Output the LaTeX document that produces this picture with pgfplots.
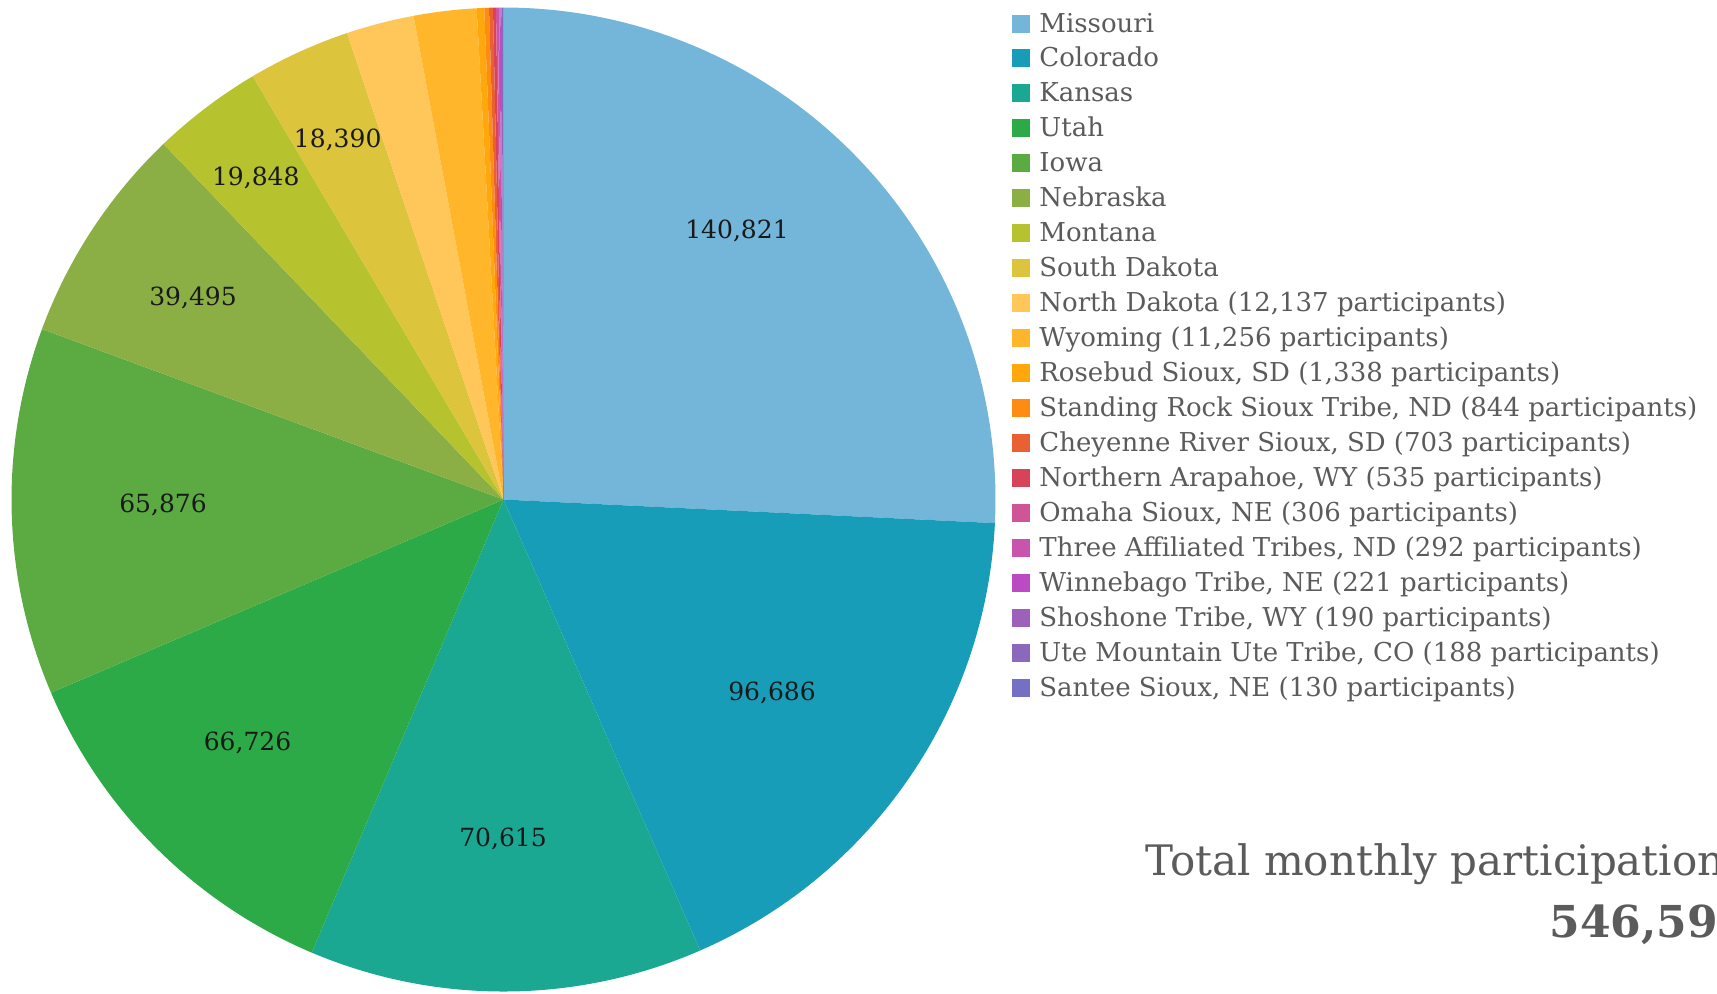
\documentclass[border=0pt]{standalone}
\usepackage{pgfplots}
\pgfplotsset{compat=1.18}
\usepackage{pgfplotstable}
\usepackage{fontspec}
\setmainfont{DejaVu Serif}
\definecolor{c0}{HTML}{74B6D9}
\definecolor{c1}{HTML}{189DB9}
\definecolor{c2}{HTML}{1BA893}
\definecolor{c3}{HTML}{2BAA47}
\definecolor{c4}{HTML}{5BAA42}
\definecolor{c5}{HTML}{8BAF45}
\definecolor{c6}{HTML}{B6C22E}
\definecolor{c7}{HTML}{DCC43D}
\definecolor{c8}{HTML}{FFC65A}
\definecolor{c9}{HTML}{FFB62A}
\definecolor{c10}{HTML}{FFA80D}
\definecolor{c11}{HTML}{FF8C12}
\definecolor{c12}{HTML}{E96132}
\definecolor{c13}{HTML}{D7445A}
\definecolor{c14}{HTML}{CF5596}
\definecolor{c15}{HTML}{C954AE}
\definecolor{c16}{HTML}{BB4BC2}
\definecolor{c17}{HTML}{9E61BA}
\definecolor{c18}{HTML}{8A69BD}
\definecolor{c19}{HTML}{7470C4}
\definecolor{txt}{HTML}{5B5B5B}

% slices (clockwise from 12 o'clock)
\pgfplotstableread[col sep=semicolon]{
name;value
Missouri;140821
Colorado;96686
Kansas;70615
Utah;66726
Iowa;65876
Nebraska;39495
Montana;19848
South Dakota;18390
North Dakota (12,137 participants);12137
Wyoming (11,256 participants);11256
Rosebud Sioux, SD (1,338 participants);1338
Standing Rock Sioux Tribe, ND (844 participants);844
Cheyenne River Sioux, SD (703 participants);703
Northern Arapahoe, WY (535 participants);535
Omaha Sioux, NE (306 participants);306
Three Affiliated Tribes, ND (292 participants);292
Winnebago Tribe, NE (221 participants);221
Shoshone Tribe, WY (190 participants);190
Ute Mountain Ute Tribe, CO (188 participants);188
Santee Sioux, NE (130 participants);130
}\piedata

% slice labels (pixel positions, y downward)
\pgfplotstableread[col sep=semicolon]{
lab;lx;ly
140,821;737;231
96,686;772;693
70,615;503;839
66,726;247.5;742.5
65,876;163;505
39,495;193;298
19,848;255.8;177.5
18,390;337.7;140
}\labdata

\begin{document}
\begin{tikzpicture}
\gdef\total{0}
\pgfplotsforeachungrouped \i in {0,...,19}{%
  \pgfplotstablegetelem{\i}{value}\of\piedata
  \xdef\total{\fpeval{\total+\pgfplotsretval}}%
}
\gdef\cumul{0}
\pgfplotsforeachungrouped \i in {0,...,19}{%
  \pgfplotstablegetelem{\i}{value}\of\piedata
  \xdef\tmpv{\pgfplotsretval}%
  \expandafter\xdef\csname sa\i\endcsname{\fpeval{90-\cumul/\total*360}}%
  \xdef\cumul{\fpeval{\cumul+\tmpv}}%
  \expandafter\xdef\csname ea\i\endcsname{\fpeval{90-\cumul/\total*360}}%
  \pgfplotstablegetelem{\i}{name}\of\piedata
  \expandafter\xdef\csname leg\i\endcsname{\pgfplotsretval}%
}
\pgfplotsforeachungrouped \i in {0,...,7}{%
  \pgfplotstablegetelem{\i}{lab}\of\labdata
  \expandafter\xdef\csname lab\i\endcsname{\pgfplotsretval}%
  \pgfplotstablegetelem{\i}{lx}\of\labdata
  \expandafter\xdef\csname lx\i\endcsname{\pgfplotsretval}%
  \pgfplotstablegetelem{\i}{ly}\of\labdata
  \expandafter\xdef\csname ly\i\endcsname{\pgfplotsretval}%
}
\useasboundingbox (0,0) rectangle (858.5pt,-496.5pt);
\clip (0,0) rectangle (858.5pt,-496.5pt);
\begin{axis}[
  at={(0,0)}, anchor=origin,
  x=0.5pt, y=0.5pt, y dir=reverse,
  xmin=0, xmax=1717, ymin=0, ymax=993,
  hide axis, clip=false,
]
\pgfplotsinvokeforeach{0,...,19}{%
  \fill[c#1] (axis cs:503.5,499.5) -- ++(\csname sa#1\endcsname:246pt)
    arc[start angle=\csname sa#1\endcsname, end angle=\csname ea#1\endcsname, radius=246pt] -- cycle;
}
\pgfplotsinvokeforeach{0,...,7}{%
  \node[font=\fontsize{12.5}{14}\selectfont, text=black!90]
    at (axis cs:\csname lx#1\endcsname,\csname ly#1\endcsname) {\csname lab#1\endcsname};
}
\pgfplotsinvokeforeach{0,...,19}{%
  \fill[c#1] (axis cs:1011.5,{23.5+34.95*#1-9}) rectangle (axis cs:1029.5,{23.5+34.95*#1+9});
  \node[anchor=base west, inner sep=0pt, font=\fontsize{13}{15}\selectfont, text=txt]
    at (axis cs:1039,{32+34.95*#1}) {\csname leg#1\endcsname};
}
\node[anchor=base west, inner sep=0pt, font=\fontsize{21}{24}\selectfont, text=txt]
  at (axis cs:1145,875) {Total monthly participation:};
\node[anchor=base west, inner sep=0pt, font=\fontsize{22}{26}\selectfont\bfseries, text=txt]
  at (axis cs:1549,937) {546,594};
\end{axis}
\end{tikzpicture}
\end{document}
